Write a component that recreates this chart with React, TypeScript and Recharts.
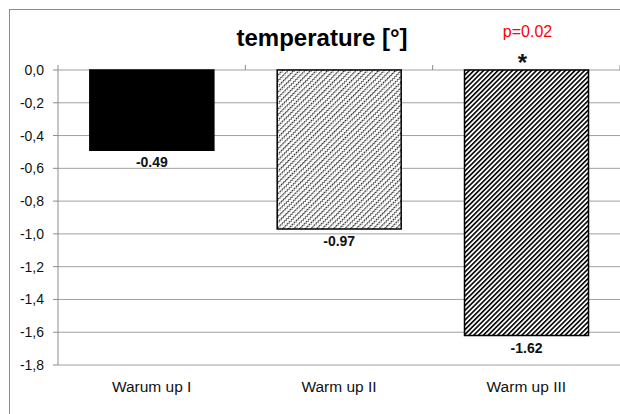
import React from 'react';
import { BarChart, Bar, XAxis, YAxis, CartesianGrid, Cell, LabelList } from 'recharts';

const categories = ['Warum up I', 'Warm up II', 'Warm up III'];
const values = [-0.49, -0.97, -1.62];
const valueLabels = ['-0.49', '-0.97', '-1.62'];
const significance = ['', '', '*'];
const pLabels = ['', '', 'p=0.02'];
const yTicks = [0, -0.2, -0.4, -0.6, -0.8, -1.0, -1.2, -1.4, -1.6, -1.8];
const fills = ['#000000', 'url(#zigzag)', 'url(#diag)'];

const data = categories.map((c, i) => ({
  name: c,
  value: values[i],
  label: valueLabels[i],
  sig: significance[i],
  p: pLabels[i],
}));

const FONT = "'Liberation Sans', Arial, sans-serif";
const PLOT_TOP = 70;

const XTick = (props: any) => {
  const { x, y, payload, width, visibleTicksCount, index } = props;
  const band = width / visibleTicksCount;
  const left = x - band / 2;
  const right = x + band / 2;
  return (
    <g>
      <line x1={left} x2={left} y1={PLOT_TOP - 5} y2={PLOT_TOP} stroke="#8c8c8c" strokeWidth={1} />
      {index === visibleTicksCount - 1 && (
        <line x1={right} x2={right} y1={PLOT_TOP - 5} y2={PLOT_TOP} stroke="#8c8c8c" strokeWidth={1} />
      )}
      <text x={x} y={y + 19} textAnchor="middle" fontSize={15.5} fill="#111" fontFamily={FONT}>
        {payload.value}
      </text>
    </g>
  );
};

const ValueLabel = (props: any) => {
  const { x, y, width, height, index } = props;
  const bottom = Math.max(y, y + height);
  return (
    <text x={x + width / 2} y={bottom + 17} textAnchor="middle" fontSize={14} fontWeight="bold" fill="#111" fontFamily={FONT}>
      {valueLabels[index]}
    </text>
  );
};

const SigLabel = (props: any) => {
  const { x, y, width, height, index } = props;
  const top = Math.min(y, y + height);
  if (!significance[index]) return null;
  return (
    <g>
      <text x={x + width / 2 + 1} y={top - 33} textAnchor="middle" fontSize={16} fill="#ff0000" fontFamily={FONT}>
        {pLabels[index]}
      </text>
      <text x={x + width / 2 - 4} y={top + 1} textAnchor="middle" fontSize={24} fontWeight="bold" fill="#111" fontFamily={FONT}>
        {significance[index]}
      </text>
    </g>
  );
};

export default function App() {
  return (
    <div style={{ position: 'absolute', left: 0, top: 0, width: 620, height: 414, overflow: 'hidden', background: '#fff' }}>
      <div style={{ position: 'absolute', left: 9, top: 9, width: 700, height: 500, border: '1.5px solid #8c8c8c' }} />
      <div
        style={{
          position: 'absolute',
          left: 322,
          top: 38,
          transform: 'translate(-50%, -50%)',
          fontFamily: FONT,
          fontWeight: 'bold',
          fontSize: 24,
          color: '#000',
          whiteSpace: 'nowrap',
        }}
      >
        temperature [°]
      </div>
      <div style={{ position: 'absolute', left: 0, top: 0 }}>
        <BarChart
          width={620}
          height={414}
          data={data}
          margin={{ top: PLOT_TOP, right: 0, bottom: 0, left: 8 }}
          barCategoryGap="17%"
        >
          <defs>
            <pattern id="diag" patternUnits="userSpaceOnUse" width={3.4} height={3.4} patternTransform="rotate(45)">
              <rect width={3.4} height={3.4} fill="#fff" />
              <line x1={0.8} y1={0} x2={0.8} y2={3.4} stroke="#000" strokeWidth={1.6} />
            </pattern>
            <pattern id="zigzag" patternUnits="userSpaceOnUse" width={4} height={3} patternTransform="rotate(45)">
              <rect width={4} height={3} fill="#fff" />
              <path d="M1,0 L2.4,1.5 L1,3" fill="none" stroke="#222" strokeWidth={1} />
            </pattern>
          </defs>
          <CartesianGrid vertical={false} stroke="#a0a0a0" strokeWidth={1} />
          <XAxis
            dataKey="name"
            axisLine={false}
            tickLine={false}
            height={49}
            tick={<XTick />}
            interval={0}
          />
          <YAxis
            domain={[-1.8, 0]}
            ticks={yTicks}
            interval={0}
            width={50}
            axisLine={{ stroke: '#8c8c8c' }}
            tickLine={{ stroke: '#8c8c8c' }}
            tickSize={5}
            tickMargin={9}
            tick={{ fontSize: 14, fill: '#111', fontFamily: FONT }}
            tickFormatter={(v: number) => v.toFixed(1).replace('.', ',')}
          />
          <Bar dataKey="value" stroke="#000" strokeWidth={1.5} isAnimationActive={false}>
            {data.map((d, i) => (
              <Cell key={d.name} fill={fills[i]} />
            ))}
            <LabelList dataKey="label" content={<ValueLabel />} />
            <LabelList dataKey="sig" content={<SigLabel />} />
          </Bar>
        </BarChart>
      </div>
    </div>
  );
}
